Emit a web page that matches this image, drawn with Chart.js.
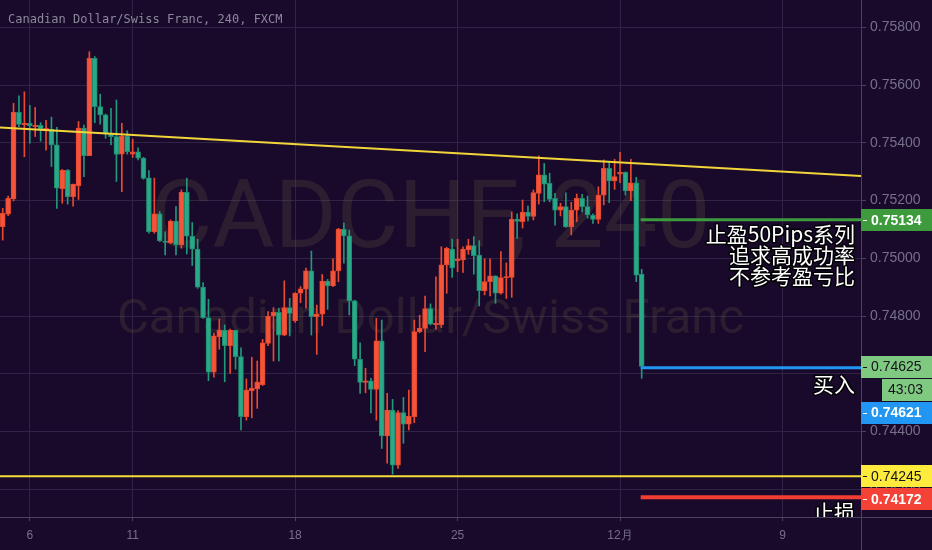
<!DOCTYPE html>
<html><head><meta charset="utf-8">
<script src="https://cdn.jsdelivr.net/npm/chart.js@4.4.1/dist/chart.umd.min.js"></script>
<style>html,body{margin:0;padding:0;background:#190a2c;overflow:hidden}#wrap{width:932px;height:550px}</style>
</head><body><div id="wrap"><canvas id="c" width="932" height="550"></canvas></div>
<script>
// ---- data (4H candles, CAD/CHF) ----
const openP = [0.75110,0.75153,0.75206,0.75506,0.75463,0.75468,0.75456,0.75461,0.75447,0.75447,
0.75393,0.75241,0.75305,0.75214,0.75252,0.75451,0.75356,0.75693,0.75526,0.75497,
0.75431,0.75422,0.75361,0.75424,0.75361,0.75369,0.75347,0.75279,0.75092,0.75154,
0.75060,0.75054,0.75129,0.75046,0.75229,0.75077,0.75032,0.74900,0.74795,0.74605,
0.74728,0.74751,0.74697,0.74751,0.74659,0.74451,0.74541,0.74547,0.74562,0.74705,
0.74800,0.74813,0.74734,0.74829,0.74784,0.74879,0.74893,0.74957,0.74798,0.74806,
0.74921,0.74904,0.74956,0.75101,0.75078,0.74853,0.74650,0.74570,0.74575,0.74546,
0.74714,0.74384,0.74474,0.74283,0.74465,0.74425,0.74451,0.74746,0.74757,0.74826,
0.74770,0.74770,0.74977,0.75032,0.74992,0.74994,0.75029,0.75044,0.75011,0.74888,
0.74919,0.74939,0.74879,0.74933,0.74934,0.75136,0.75127,0.75160,0.75145,0.75225,
0.75289,0.75260,0.75208,0.75167,0.75179,0.75109,0.75167,0.75208,0.75179,0.75150,
0.75135,0.75219,0.75312,0.75268,0.75292,0.75298,0.75234,0.75262,0.74945];
const highP = [0.75173,0.75216,0.75537,0.75563,0.75577,0.75530,0.75523,0.75470,0.75478,0.75489,
0.75454,0.75308,0.75308,0.75257,0.75474,0.75462,0.75716,0.75699,0.75569,0.75500,
0.75520,0.75549,0.75468,0.75442,0.75413,0.75383,0.75350,0.75304,0.75278,0.75162,
0.75092,0.75133,0.75179,0.75237,0.75278,0.75124,0.75066,0.74916,0.74858,0.74740,
0.74789,0.74769,0.74755,0.74751,0.74690,0.74582,0.74657,0.74644,0.74719,0.74815,
0.74829,0.74827,0.74922,0.74861,0.74881,0.74902,0.74966,0.75025,0.74838,0.74944,
0.74927,0.74998,0.75104,0.75122,0.75098,0.74855,0.74707,0.74619,0.74584,0.74792,
0.74786,0.74532,0.74511,0.74472,0.74518,0.74543,0.74786,0.74803,0.74869,0.74842,
0.74936,0.75040,0.75038,0.75067,0.75066,0.75040,0.75066,0.75075,0.75061,0.74998,
0.74998,0.74939,0.75023,0.74984,0.75161,0.75154,0.75202,0.75181,0.75237,0.75355,
0.75329,0.75295,0.75225,0.75191,0.75227,0.75194,0.75223,0.75222,0.75216,0.75154,
0.75248,0.75341,0.75335,0.75343,0.75367,0.75300,0.75343,0.75281,0.74962];
const lowP = [0.75063,0.75148,0.75199,0.75456,0.75352,0.75399,0.75422,0.75406,0.75375,0.75318,
0.75173,0.75191,0.75188,0.75181,0.75204,0.75283,0.75356,0.75470,0.75465,0.75416,
0.75393,0.75266,0.75231,0.75361,0.75350,0.75341,0.75274,0.75087,0.75087,0.75058,
0.75012,0.75050,0.75012,0.75035,0.75015,0.74975,0.74896,0.74792,0.74576,0.74588,
0.74685,0.74572,0.74601,0.74616,0.74405,0.74439,0.74447,0.74480,0.74559,0.74697,
0.74644,0.74644,0.74732,0.74731,0.74778,0.74846,0.74827,0.74734,0.74667,0.74766,
0.74823,0.74902,0.74919,0.74983,0.74804,0.74628,0.74532,0.74534,0.74464,0.74439,
0.74341,0.74290,0.74252,0.74272,0.74359,0.74405,0.74430,0.74742,0.74676,0.74769,
0.74754,0.74760,0.74879,0.74934,0.74954,0.74951,0.75014,0.74945,0.74835,0.74873,
0.74870,0.74844,0.74876,0.74861,0.74865,0.75069,0.75105,0.75130,0.75133,0.75188,
0.75196,0.75196,0.75115,0.75147,0.75107,0.75081,0.75127,0.75161,0.75139,0.75121,
0.75121,0.75185,0.75193,0.75239,0.75262,0.75219,0.75200,0.74919,0.74584];
const closeP = [0.75156,0.75208,0.75506,0.75464,0.75468,0.75459,0.75461,0.75447,0.75449,0.75393,
0.75243,0.75305,0.75214,0.75257,0.75451,0.75356,0.75693,0.75526,0.75497,0.75431,
0.75422,0.75360,0.75424,0.75369,0.75369,0.75347,0.75277,0.75092,0.75154,0.75060,
0.75055,0.75129,0.75046,0.75229,0.75077,0.75032,0.74900,0.74794,0.74605,0.74731,
0.74751,0.74697,0.74751,0.74659,0.74451,0.74543,0.74550,0.74571,0.74707,0.74800,
0.74813,0.74734,0.74829,0.74809,0.74879,0.74894,0.74957,0.74798,0.74807,0.74921,
0.74904,0.74957,0.75101,0.75078,0.74853,0.74650,0.74570,0.74575,0.74546,0.74714,
0.74384,0.74474,0.74283,0.74465,0.74425,0.74453,0.74746,0.74757,0.74826,0.74772,
0.74775,0.74977,0.75035,0.74967,0.74998,0.75032,0.75044,0.75009,0.74888,0.74919,
0.74939,0.74879,0.74933,0.74936,0.75136,0.75128,0.75160,0.75145,0.75228,0.75289,
0.75257,0.75204,0.75167,0.75179,0.75109,0.75167,0.75208,0.75179,0.75150,0.75135,
0.75219,0.75312,0.75268,0.75283,0.75298,0.75234,0.75262,0.74942,0.74625];

const dateLabels = ['6','11','18','25','12月','9'];
const dateLabelIndex = [5,24,54,84,114,144];
const slotCount = 159;
const yTickValues = [0.758,0.756,0.754,0.752,0.750,0.748,0.746,0.744,0.742];
const yMin = 0.741034, yMax = 0.758953;

const trendLine = [[-0.5, 0.75453],[158.5, 0.75285]];
const supportLevel = 0.74245;
const takeProfit = 0.75134;
const entryPrice = 0.74621;
const lastPrice = 0.74625;
const stopLoss = 0.74172;
const tradeStartIndex = 118;
const countdownText = '43:03';
const noteLines = ['止盈50Pips系列','追求高成功率','不参考盈亏比'];
const buyText = '买入';
const stopText = '止损';
const titleText = 'Canadian Dollar/Swiss Franc, 240, FXCM';
const watermarkMain = 'CADCHF, 240';
const watermarkSub = 'Canadian Dollar/Swiss Franc';

// ---- styling ----
const bgColor = '#190a2c';
const gridColor = '#2f2445';
const axisText = '#766f87';
const axisLine = '#4a4360';
const upFill = '#f4553a', upLine = '#e4472e';
const downFill = '#2aa988', downLine = '#1e8a6d';

const slotLabels = Array.from({length: slotCount}, (_, i) => {
  const k = dateLabelIndex.indexOf(i);
  return k >= 0 ? dateLabels[k] : '';
});
const bodies = openP.map((o, i) => [o, closeP[i]]);
const wicks = lowP.map((l, i) => [l, highP[i]]);
const isUp = i => closeP[i] >= openP[i];

const decor = {
  id: 'decor',
  beforeDraw(chart) {
    const c = chart.ctx;
    c.save(); c.fillStyle = bgColor; c.fillRect(0, 0, chart.width, chart.height); c.restore();
  },
  beforeDatasetsDraw(chart) {
    const c = chart.ctx, a = chart.chartArea;
    const cx = (a.left + a.right) / 2;
    c.save();
    c.beginPath(); c.rect(a.left, a.top, a.right - a.left, a.bottom - a.top); c.clip();
    c.fillStyle = 'rgba(120,105,70,0.2)';
    c.textAlign = 'center'; c.textBaseline = 'alphabetic';
    c.font = '100px Roboto';
    let w = c.measureText(watermarkMain).width;
    c.font = Math.round(100 * 562 / w) + 'px Roboto';
    c.fillText(watermarkMain, cx, 247);
    c.font = '50px Roboto';
    w = c.measureText(watermarkSub).width;
    c.font = Math.round(50 * 623 / w) + 'px Roboto';
    c.fillText(watermarkSub, cx, 333);
    c.restore();
  },
  afterDatasetsDraw(chart) {
    const c = chart.ctx, a = chart.chartArea, xs = chart.scales.x, ys = chart.scales.y;
    c.save();
    c.beginPath(); c.rect(a.left, a.top, a.right - a.left, a.bottom - a.top); c.clip();
    c.strokeStyle = '#f2d53a'; c.lineWidth = 2;
    c.beginPath();
    c.moveTo(xs.getPixelForValue(trendLine[0][0]), ys.getPixelForValue(trendLine[0][1]));
    c.lineTo(xs.getPixelForValue(trendLine[1][0]), ys.getPixelForValue(trendLine[1][1]));
    c.stroke();
    const hline = (p, x0, col, lw) => {
      const y = ys.getPixelForValue(p);
      c.strokeStyle = col; c.lineWidth = lw;
      c.beginPath(); c.moveTo(x0, y); c.lineTo(a.right, y); c.stroke();
    };
    hline(supportLevel, a.left, '#f5de3a', 2);
    const tx = xs.getPixelForValue(tradeStartIndex) - 1;
    hline(takeProfit, tx, '#3d9a3d', 3);
    hline(entryPrice, tx, '#2196f3', 3);
    hline(stopLoss, tx, '#f23d33', 4);
    c.font = '21px "Noto Sans CJK SC"';
    c.textAlign = 'right'; c.textBaseline = 'middle';
    c.lineJoin = 'round';
    const note = (t, x, y) => {
      c.strokeStyle = 'rgba(0,0,0,0.9)'; c.lineWidth = 3; c.strokeText(t, x, y);
      c.fillStyle = '#ffffff'; c.fillText(t, x, y);
    };
    const nx = a.right - 6;
    const tpY = ys.getPixelForValue(takeProfit);
    noteLines.forEach((t, k) => note(t, nx, tpY + 14 + k * 21));
    note(buyText, nx, ys.getPixelForValue(entryPrice) + 16);
    note(stopText, nx, ys.getPixelForValue(stopLoss) + 15);
    c.restore();
  },
  afterDraw(chart) {
    const c = chart.ctx, a = chart.chartArea, ys = chart.scales.y;
    c.save();
    c.strokeStyle = axisLine; c.lineWidth = 1;
    c.beginPath(); c.moveTo(a.right + 0.5, 0); c.lineTo(a.right + 0.5, chart.height); c.stroke();
    c.beginPath(); c.moveTo(0, a.bottom + 0.5); c.lineTo(chart.width, a.bottom + 0.5); c.stroke();
    c.font = '12px "DejaVu Sans Mono"'; c.fillStyle = '#8b879a';
    c.textAlign = 'left'; c.textBaseline = 'middle';
    c.fillText(titleText, 8, 20);
    const box = (yc, bg, fg, bold, text, x0, tx) => {
      c.fillStyle = bg; c.fillRect(x0, Math.round(yc - 11), chart.width - x0, 22);
      if (x0 <= a.right + 1) { c.fillStyle = fg; c.fillRect(a.right + 2, Math.round(yc), 4, 1); }
      c.fillStyle = fg; c.font = (bold ? 'bold ' : '') + '14px "Liberation Sans"';
      c.textAlign = 'left'; c.textBaseline = 'middle';
      c.fillText(text, tx, yc + 1);
    };
    const L = a.right;
    const tpY = ys.getPixelForValue(takeProfit);
    box(tpY, '#3d9a3d', '#ffffff', true, takeProfit.toFixed(5), L, L + 10);
    const lastY = ys.getPixelForValue(lastPrice);
    box(lastY, '#80c980', '#15131c', false, lastPrice.toFixed(5), L, L + 10);
    box(lastY + 23, '#80c980', '#15131c', false, countdownText, L + 21, L + 27);
    box(lastY + 46, '#2196f3', '#ffffff', true, entryPrice.toFixed(5), L, L + 10);
    const supY = ys.getPixelForValue(supportLevel);
    box(supY, '#ffeb3b', '#15131c', false, supportLevel.toFixed(5), L, L + 10);
    const slY = Math.max(ys.getPixelForValue(stopLoss), supY + 23);
    box(slY, '#f44336', '#ffffff', true, stopLoss.toFixed(5), L, L + 10);
    c.restore();
  }
};

new Chart(document.getElementById('c'), {
  type: 'bar',
  data: {
    labels: slotLabels,
    datasets: [
      { label: 'body', data: bodies, grouped: false, order: 0, barThickness: 5, minBarLength: 1,
        borderWidth: 1, borderSkipped: false,
        backgroundColor: ctx => isUp(ctx.dataIndex) ? upFill : downFill,
        borderColor: ctx => isUp(ctx.dataIndex) ? upLine : downLine },
      { label: 'wick', data: wicks, grouped: false, order: 1, barThickness: 1, borderWidth: 0,
        backgroundColor: ctx => isUp(ctx.dataIndex) ? '#e9492f' : '#22977a' }
    ]
  },
  options: {
    responsive: false, animation: false, events: [],
    layout: { padding: 0 },
    plugins: { legend: { display: false }, tooltip: { enabled: false } },
    scales: {
      x: {
        type: 'category', offset: true,
        afterFit: s => { s.height = 33; s.paddingLeft = 0; s.paddingRight = 0; },
        grid: {
          offset: false, lineWidth: 1, tickLength: 4,
          color: ctx => (ctx.tick && ctx.tick.label) ? gridColor : 'rgba(0,0,0,0)',
          tickColor: ctx => (ctx.tick && ctx.tick.label) ? axisLine : 'rgba(0,0,0,0)'
        },
        border: { display: false },
        ticks: { autoSkip: false, maxRotation: 0, minRotation: 0, color: axisText,
          font: { family: 'Liberation Sans', size: 12 }, padding: 7 }
      },
      y: {
        type: 'linear', position: 'right', min: yMin, max: yMax, bounds: 'data',
        afterBuildTicks: s => { s.ticks = yTickValues.map(v => ({ value: v })); },
        afterFit: s => { s.width = 71; s.paddingTop = 0; s.paddingBottom = 0; },
        grid: { color: gridColor, lineWidth: 1, tickLength: 5, tickColor: axisLine },
        border: { display: false },
        ticks: { color: axisText, font: { family: 'Liberation Sans', size: 14 }, padding: 4,
          callback: v => Number(v).toFixed(5) }
      }
    }
  },
  plugins: [decor]
});
</script>
</body></html>
